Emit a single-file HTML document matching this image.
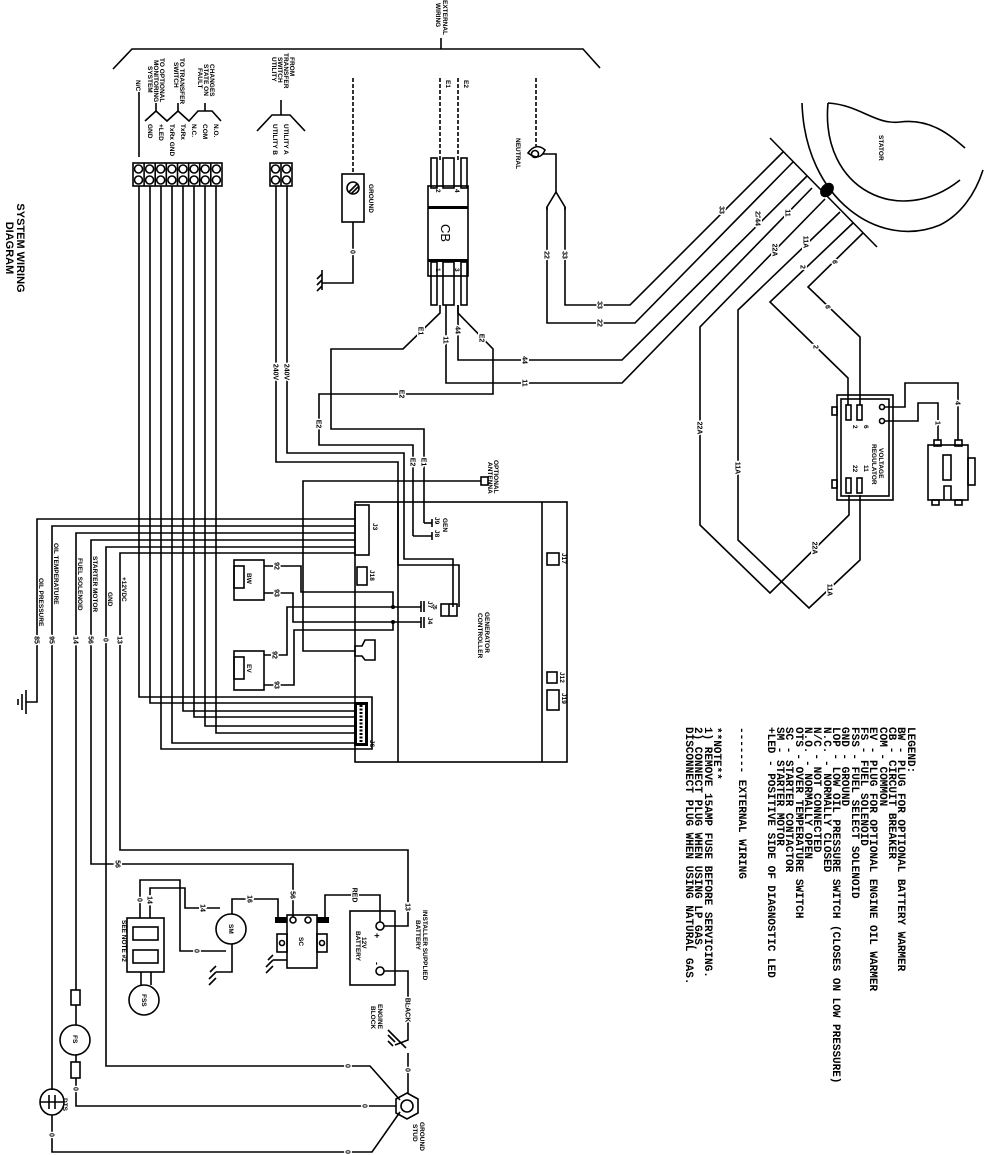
<!DOCTYPE html>
<html><head><meta charset="utf-8"><style>
html,body{margin:0;padding:0;background:#fff;}
svg{display:block}
.w{fill:none;stroke:#000;stroke-width:1.6}
.d{fill:none;stroke:#000;stroke-width:1.6;stroke-dasharray:4 2}
.l{font-family:"Liberation Sans",sans-serif;font-weight:bold;font-size:7px;fill:#000;paint-order:stroke;stroke:#fff;stroke-width:3px;text-anchor:middle}
.t{font-family:"Liberation Sans",sans-serif;font-weight:900;font-size:6.5px;fill:#000}
.g{font-family:"Liberation Mono",monospace;font-size:11px;font-weight:bold;fill:#000}
</style></head><body>
<svg width="984" height="1155" viewBox="0 0 984 1155" xmlns="http://www.w3.org/2000/svg">
<text transform="translate(17,248) rotate(90)" text-anchor="middle" style="font-family:'Liberation Sans',sans-serif;font-weight:900;font-size:11px">SYSTEM WIRING</text>
<text transform="translate(6,248) rotate(90)" text-anchor="middle" style="font-family:'Liberation Sans',sans-serif;font-weight:900;font-size:11px">DIAGRAM</text>

<polyline class="w" points="113,69 132,49 583,49 600,68"/>
<line class="w" x1="441" y1="49" x2="441" y2="38"/>
<text class="t" transform="translate(443,0) rotate(90)">EXTERNAL</text>
<text class="t" transform="translate(436,3) rotate(90)">WIRING</text>

<text class="t" transform="translate(210,64) rotate(90)">CHANGES</text>
<text class="t" transform="translate(204,64) rotate(90)">STATE ON</text>
<text class="t" transform="translate(198,68) rotate(90)">FAULT</text>
<text class="t" transform="translate(180,58) rotate(90)">TO TRANSFER</text>
<text class="t" transform="translate(174,62) rotate(90)">SWITCH</text>
<text class="t" transform="translate(160,58) rotate(90)">TO OPTIONAL</text>
<text class="t" transform="translate(154,60) rotate(90)">MONITORING</text>
<text class="t" transform="translate(148,66) rotate(90)">SYSTEM</text>
<text class="t" transform="translate(136,80) rotate(90)">N/C</text>
<line class="w" x1="139" y1="92" x2="139" y2="157"/>
<polyline class="w" points="145,121 156,111 167,121 178,111 189,121 198,111 212,111 221,121"/>
<line class="w" x1="156" y1="111" x2="156" y2="103"/>
<line class="w" x1="178" y1="111" x2="178" y2="103"/>
<line class="w" x1="205" y1="111" x2="205" y2="103"/>
<text class="t" transform="translate(214,124) rotate(90)">N.O.</text>
<text class="t" transform="translate(203,124) rotate(90)">COM</text>
<text class="t" transform="translate(192,124) rotate(90)">N.C.</text>
<text class="t" transform="translate(181,124) rotate(90)">TxRx</text>
<text class="t" transform="translate(170,124) rotate(90)">TxRx GND</text>
<text class="t" transform="translate(159,124) rotate(90)">+LED</text>
<text class="t" transform="translate(148,124) rotate(90)">GND</text>

<rect class="w" x="133" y="163" width="89" height="23"/>
<g class="w">
<line x1="144.1" y1="163" x2="144.1" y2="186"/><line x1="155.2" y1="163" x2="155.2" y2="186"/><line x1="166.3" y1="163" x2="166.3" y2="186"/><line x1="177.5" y1="163" x2="177.5" y2="186"/><line x1="188.6" y1="163" x2="188.6" y2="186"/><line x1="199.7" y1="163" x2="199.7" y2="186"/><line x1="210.8" y1="163" x2="210.8" y2="186"/>
<circle cx="138.5" cy="169" r="4"/><circle cx="149.6" cy="169" r="4"/><circle cx="160.7" cy="169" r="4"/><circle cx="171.9" cy="169" r="4"/><circle cx="183" cy="169" r="4"/><circle cx="194.1" cy="169" r="4"/><circle cx="205.2" cy="169" r="4"/><circle cx="216.4" cy="169" r="4"/>
<circle cx="138.5" cy="180" r="4"/><circle cx="149.6" cy="180" r="4"/><circle cx="160.7" cy="180" r="4"/><circle cx="171.9" cy="180" r="4"/><circle cx="183" cy="180" r="4"/><circle cx="194.1" cy="180" r="4"/><circle cx="205.2" cy="180" r="4"/><circle cx="216.4" cy="180" r="4"/>
</g>
<polyline class="w" points="139,186 139,697 372,697 372,749 161,749 161,186"/>
<polyline class="w" points="150,186 150,703 356,703"/>
<polyline class="w" points="172,186 172,743 356,743"/>
<polyline class="w" points="183,186 183,711 356,711"/>
<polyline class="w" points="194,186 194,717 356,717"/>
<polyline class="w" points="205,186 205,726 356,726"/>
<polyline class="w" points="216,186 216,733 356,733"/>
<rect x="354" y="702" width="14" height="44" fill="#000"/>
<rect x="357" y="705" width="8" height="38" fill="#fff"/>
<line x1="361" y1="705" x2="361" y2="743" stroke="#000" stroke-width="3" stroke-dasharray="2 1.5"/>
<text class="t" transform="translate(370,740) rotate(90)">J6</text>

<text class="t" transform="translate(290,57) rotate(90)">FROM</text>
<text class="t" transform="translate(284,53) rotate(90)">TRANSFER</text>
<text class="t" transform="translate(278,57) rotate(90)">SWITCH</text>
<text class="t" transform="translate(272,57) rotate(90)">UTILITY</text>
<line class="w" x1="281" y1="100" x2="281" y2="115"/>
<polyline class="w" points="257,131 272,115 290,115 305,131"/>
<text class="t" transform="translate(284,124) rotate(90)">UTILITY A</text>
<text class="t" transform="translate(273,124) rotate(90)">UTILITY B</text>
<rect class="w" x="270" y="163" width="22" height="23"/>
<line class="w" x1="281" y1="163" x2="281" y2="186"/>
<g class="w"><circle cx="275.5" cy="169" r="4"/><circle cx="286.5" cy="169" r="4"/><circle cx="275.5" cy="180" r="4"/><circle cx="286.5" cy="180" r="4"/></g>
<polyline class="w" points="276,186 276,462 398,462 398,565 459,565 459,607"/>
<polyline class="w" points="287,186 287,453 404,453 404,559 453,559 453,607"/>
<text class="l" transform="translate(276,372) rotate(90)" dy="2.5">240V</text>
<text class="l" transform="translate(287,372) rotate(90)" dy="2.5">240V</text>

<line class="d" x1="353" y1="78" x2="353" y2="174"/>
<rect class="w" x="342" y="174" width="22" height="48"/>
<circle class="w" cx="353" cy="188" r="6"/>
<line class="w" x1="349" y1="192" x2="357" y2="184"/><line class="w" x1="351" y1="194" x2="359" y2="186"/>
<text class="t" transform="translate(369,184) rotate(90)">GROUND</text>
<polyline class="w" points="353,222 353,283 322,283"/>
<text class="l" transform="translate(353,252) rotate(90)" dy="2.5">0</text>
<line class="w" x1="322" y1="270" x2="322" y2="290"/>
<line class="w" x1="322" y1="274" x2="317" y2="279"/><line class="w" x1="322" y1="280" x2="317" y2="285"/><line class="w" x1="322" y1="286" x2="317" y2="291"/>

<line class="d" x1="440" y1="78" x2="440" y2="160"/>
<line class="d" x1="458" y1="78" x2="458" y2="160"/>
<text class="t" transform="translate(446,80) rotate(90)">E1</text>
<text class="t" transform="translate(464,80) rotate(90)">E2</text>
<rect class="w" x="431" y="158" width="6" height="30"/><rect class="w" x="443" y="158" width="11" height="30"/><rect class="w" x="461" y="158" width="6" height="30"/>
<rect class="w" x="431" y="262" width="6" height="43"/><rect class="w" x="443" y="262" width="11" height="43"/><rect class="w" x="461" y="262" width="6" height="43"/>
<rect class="w" x="428" y="186" width="40" height="90" fill="#fff"/>
<rect x="428" y="206" width="40" height="3" fill="#000"/>
<rect x="428" y="259" width="40" height="3" fill="#000"/>
<text transform="translate(441,233) rotate(90)" text-anchor="middle" style="font-family:'Liberation Sans',sans-serif;font-size:13px">CB</text>
<text class="t" transform="translate(436,189) rotate(90)">2</text>
<text class="t" transform="translate(455,189) rotate(90)">4</text>
<text class="t" transform="translate(436,268) rotate(90)">1</text>
<text class="t" transform="translate(455,268) rotate(90)">3</text>
<polyline class="w" points="440,305 440,313 403,349 331,349 331,429 424,429 424,523"/>
<polyline class="w" points="458,305 458,313 493,349 493,394 319,394 319,445 413,445 413,536"/>
<polyline class="w" points="446,305 446,383 622,383 812,188"/>
<polyline class="w" points="458,305 458,360 622,360 807,176"/>
<text class="l" transform="translate(421,331) rotate(90)" dy="2.5">E1</text>
<text class="l" transform="translate(446,340) rotate(90)" dy="2.5">11</text>
<text class="l" transform="translate(458,330) rotate(90)" dy="2.5">44</text>
<text class="l" transform="translate(482,338) rotate(90)" dy="2.5">E2</text>
<text class="l" transform="translate(525,360) rotate(90)" dy="2.5">44</text>
<text class="l" transform="translate(525,383) rotate(90)" dy="2.5">11</text>
<text class="l" transform="translate(402,394) rotate(90)" dy="2.5">E2</text>
<text class="l" transform="translate(319,424) rotate(90)" dy="2.5">E2</text>
<text class="l" transform="translate(413,462) rotate(90)" dy="2.5">E2</text>
<text class="l" transform="translate(424,462) rotate(90)" dy="2.5">E1</text>
<line class="w" x1="424" y1="523" x2="432" y2="523"/><line class="w" x1="432" y1="519" x2="432" y2="527"/>
<line class="w" x1="413" y1="536" x2="432" y2="536"/><line class="w" x1="432" y1="532" x2="432" y2="540"/>
<text class="t" transform="translate(435,517) rotate(90)">J9</text>
<text class="t" transform="translate(435,530) rotate(90)">J8</text>
<text class="t" transform="translate(443,518) rotate(90)">GEN</text>

<line class="d" x1="536" y1="78" x2="536" y2="146"/>
<path class="w" d="M528,153 Q536,142 545,150 Q540,162 528,153 Z"/>
<circle class="w" cx="535" cy="154" r="3.5"/>
<text class="t" transform="translate(516,138) rotate(90)">NEUTRAL</text>
<polyline class="w" points="543,154 556,154 556,192"/>
<polyline class="w" points="547,210 547,207 556,192 565,207 565,210"/>
<polyline class="w" points="547,207 547,323 635,323 793,162"/>
<polyline class="w" points="565,207 565,305 630,305 783,152"/>
<text class="l" transform="translate(547,255) rotate(90)" dy="2.5">22</text>
<text class="l" transform="translate(565,255) rotate(90)" dy="2.5">33</text>
<text class="l" transform="translate(600,305) rotate(90)" dy="2.5">33</text>
<text class="l" transform="translate(600,323) rotate(90)" dy="2.5">22</text>

<path class="w" d="M802,103 C805,200 880,250 940,225 C960,215 975,195 983,170"/>
<path class="w" d="M828,103 C820,190 900,228 960,180"/>
<path class="w" d="M828,103 C860,105 875,125 900,122 C930,118 950,135 965,148"/>
<text class="t" transform="translate(879,135) rotate(90)">STATOR</text>
<line class="w" x1="770" y1="138" x2="877" y2="247"/>
<ellipse cx="827" cy="190" rx="6" ry="8" transform="rotate(40 827 190)" fill="#000"/>
<polyline class="w" points="825,199 700,327 700,525 770,593 849,515 849,495"/>
<polyline class="w" points="840,212 738,310 738,540 809,608 860,560 860,495"/>
<polyline class="w" points="853,223 770,302 848,378 848,405"/>
<polyline class="w" points="863,233 808,287 860,337 860,405"/>
<text class="l" transform="translate(722,210) rotate(90)" dy="2.5">33</text>
<text class="l" transform="translate(758,215) rotate(90)" dy="2.5">22</text>
<text class="l" transform="translate(758,222) rotate(90)" dy="2.5">44</text>
<text class="l" transform="translate(788,213) rotate(90)" dy="2.5">11</text>
<text class="l" transform="translate(775,250) rotate(90)" dy="2.5">22A</text>
<text class="l" transform="translate(806,242) rotate(90)" dy="2.5">11A</text>
<text class="l" transform="translate(803,267) rotate(90)" dy="2.5">2</text>
<text class="l" transform="translate(835,262) rotate(90)" dy="2.5">6</text>
<text class="l" transform="translate(828,307) rotate(90)" dy="2.5">6</text>
<text class="l" transform="translate(816,347) rotate(90)" dy="2.5">2</text>
<text class="l" transform="translate(700,428) rotate(90)" dy="2.5">22A</text>
<text class="l" transform="translate(738,468) rotate(90)" dy="2.5">11A</text>
<text class="l" transform="translate(815,548) rotate(90)" dy="2.5">22A</text>
<text class="l" transform="translate(830,590) rotate(90)" dy="2.5">11A</text>

<rect class="w" x="837" y="395" width="56" height="105"/>
<rect class="w" x="841" y="399" width="48" height="97"/>
<rect class="w" x="832" y="407" width="5" height="8"/><rect class="w" x="832" y="480" width="5" height="8"/>
<rect class="w" x="846" y="405" width="5" height="15"/><rect class="w" x="857" y="405" width="5" height="15"/>
<rect class="w" x="846" y="478" width="5" height="15"/><rect class="w" x="857" y="478" width="5" height="15"/>
<text class="t" transform="translate(853,425) rotate(90)">2</text>
<text class="t" transform="translate(864,425) rotate(90)">6</text>
<text class="t" transform="translate(853,465) rotate(90)">22</text>
<text class="t" transform="translate(864,465) rotate(90)">11</text>
<text class="t" transform="translate(879,448) rotate(90)">VOLTAGE</text>
<text class="t" transform="translate(872,444) rotate(90)">REGULATOR</text>
<circle class="w" cx="882" cy="407" r="2.5"/><circle class="w" cx="882" cy="421" r="2.5"/>
<polyline class="w" points="885,407 905,407 905,383 958,383 958,440"/>
<polyline class="w" points="885,421 918,421 918,403 938,403 938,440"/>
<text class="l" transform="translate(958,403) rotate(90)" dy="2.5">4</text>
<text class="l" transform="translate(938,423) rotate(90)" dy="2.5">1</text>
<rect class="w" x="928" y="445" width="40" height="55"/>
<rect class="w" x="934" y="440" width="7" height="6"/><rect class="w" x="955" y="440" width="7" height="6"/>
<rect class="w" x="943" y="455" width="8" height="25"/>
<rect class="w" x="968" y="458" width="7" height="27"/>
<rect class="w" x="932" y="500" width="7" height="5"/><rect class="w" x="955" y="500" width="7" height="5"/>
<polyline class="w" points="944,500 944,486 951,486 951,500"/>

<rect class="w" x="355" y="502" width="212" height="260"/>
<line class="w" x1="398" y1="502" x2="398" y2="762"/>
<line class="w" x1="542" y1="502" x2="542" y2="762"/>
<text class="t" transform="translate(485,612) rotate(90)">GENERATOR</text>
<text class="t" transform="translate(478,613) rotate(90)">CONTROLLER</text>
<rect class="w" x="355" y="505" width="14" height="50"/>
<text class="t" transform="translate(373,523) rotate(90)">J3</text>
<rect class="w" x="357" y="567" width="10" height="18"/>
<text class="t" transform="translate(370,570) rotate(90)">J18</text>
<rect class="w" x="547" y="553" width="12" height="12"/><text class="t" transform="translate(562,553) rotate(90)">J17</text>
<rect class="w" x="547" y="672" width="10" height="11"/><text class="t" transform="translate(560,672) rotate(90)">J12</text>
<rect class="w" x="547" y="690" width="12" height="20"/><text class="t" transform="translate(562,693) rotate(90)">J19</text>
<rect class="w" x="441" y="604" width="16" height="12"/>
<line class="w" x1="449" y1="604" x2="449" y2="616"/>
<text class="t" transform="translate(433,604) rotate(90)" style="font-size:5px">J5</text>
<polyline class="w" points="355,519 37,519 37,702 26,702"/>
<polyline class="w" points="355,526 52,526 52,1090"/>
<polyline class="w" points="355,533 76,533 76,990"/>
<polyline class="w" points="355,540 91,540 91,864 293,864 293,917"/>
<polyline class="w" points="355,547 106,547 106,1066 370,1066 400,1100"/>
<polyline class="w" points="355,553 120,553 120,850 408,850 408,926 384,926"/>
<line class="w" x1="26" y1="690" x2="26" y2="714"/><line class="w" x1="22" y1="694" x2="22" y2="710"/><line class="w" x1="18" y1="699" x2="18" y2="705"/>
<text class="t" transform="translate(39,578) rotate(90)">OIL PRESSURE</text>
<text class="t" transform="translate(54,543) rotate(90)">OIL TEMPERATURE</text>
<text class="t" transform="translate(78,558) rotate(90)">FUEL SOLENOID</text>
<text class="t" transform="translate(93,556) rotate(90)">STARTER MOTOR</text>
<text class="t" transform="translate(108,592) rotate(90)">GND</text>
<text class="t" transform="translate(122,577) rotate(90)">+12VDC</text>
<text class="l" transform="translate(37,640) rotate(90)" dy="2.5">85</text>
<text class="l" transform="translate(52,640) rotate(90)" dy="2.5">95</text>
<text class="l" transform="translate(76,640) rotate(90)" dy="2.5">14</text>
<text class="l" transform="translate(91,640) rotate(90)" dy="2.5">56</text>
<text class="l" transform="translate(106,640) rotate(90)" dy="2.5">0</text>
<text class="l" transform="translate(120,640) rotate(90)" dy="2.5">13</text>

<polyline class="w" points="481,481 303,481 303,651 355,651"/>
<rect class="w" x="481" y="477" width="7" height="8"/>
<text class="t" transform="translate(494,460) rotate(90)">OPTIONAL</text>
<text class="t" transform="translate(488,462) rotate(90)">ANTENNA</text>
<path class="w" d="M355,646 L362,646 L365,640 L375,640 L375,660 L365,660 L362,656 L355,656 Z"/>

<rect class="w" x="234" y="560" width="30" height="40"/>
<rect class="w" x="234" y="566" width="10" height="22"/>
<text class="t" transform="translate(247,573) rotate(90)">BW</text>
<rect class="w" x="234" y="651" width="30" height="39"/>
<rect class="w" x="234" y="657" width="10" height="22"/>
<text class="t" transform="translate(247,664) rotate(90)">EV</text>
<polyline class="w" points="264,566 301,566 301,592 393,592 393,607"/>
<polyline class="w" points="264,593 293,593 293,622 421,622"/>
<polyline class="w" points="264,655 287,655 287,607 421,607"/>
<polyline class="w" points="264,685 294,685 294,630 393,630 393,622"/>
<circle cx="393" cy="607" r="2" fill="#000"/><circle cx="393" cy="622" r="2" fill="#000"/>
<line class="w" x1="421" y1="601" x2="421" y2="612"/><line class="w" x1="421" y1="617" x2="421" y2="628"/>
<line class="w" x1="424" y1="601" x2="424" y2="612"/><line class="w" x1="424" y1="617" x2="424" y2="628"/>
<text class="t" transform="translate(428,601) rotate(90)">J7</text>
<text class="t" transform="translate(428,617) rotate(90)">J4</text>
<text class="l" transform="translate(277,566) rotate(90)" dy="2.5">92</text>
<text class="l" transform="translate(277,593) rotate(90)" dy="2.5">93</text>
<text class="l" transform="translate(275,655) rotate(90)" dy="2.5">92</text>
<text class="l" transform="translate(277,685) rotate(90)" dy="2.5">93</text>

<text class="l" transform="translate(118,864) rotate(90)" dy="2.5">56</text>
<text class="l" transform="translate(293,895) rotate(90)" dy="2.5">56</text>
<text class="l" transform="translate(408,907) rotate(90)" dy="2.5">13</text>
<text class="t" transform="translate(423,910) rotate(90)">INSTALLER SUPPLIED</text>
<text class="t" transform="translate(416,920) rotate(90)">BATTERY</text>
<rect class="w" x="350" y="911" width="45" height="74"/>
<circle class="w" cx="380" cy="926" r="4"/><circle class="w" cx="380" cy="971" r="4"/>
<text class="t" transform="translate(374,933) rotate(90)" style="font-size:9px">+</text>
<text class="t" transform="translate(374,962) rotate(90)" style="font-size:9px">-</text>
<text class="t" transform="translate(362,937) rotate(90)">12V</text>
<text class="t" transform="translate(356,931) rotate(90)">BATTERY</text>
<polyline class="w" points="380,922 380,895 325,895 325,917"/>
<text class="l" transform="translate(355,895) rotate(90)" dy="2.5">RED</text>
<polyline class="w" points="384,971 408,971 408,1040 395,1045"/>
<line class="w" x1="408" y1="1053" x2="408" y2="1094"/>
<text class="l" transform="translate(408,1010) rotate(90)" dy="2.5">BLACK</text>
<text class="l" transform="translate(408,1070) rotate(90)" dy="2.5">0</text>
<text class="t" transform="translate(378,1004) rotate(90)">ENGINE</text>
<text class="t" transform="translate(371,1006) rotate(90)">BLOCK</text>
<line class="w" x1="388" y1="1030" x2="406" y2="1048"/>
<line class="w" x1="388" y1="1035" x2="395" y2="1042"/><line class="w" x1="388" y1="1041" x2="393" y2="1046"/>
<polygon class="w" points="407,1093 418,1099 418,1113 407,1119 396,1113 396,1099"/>
<circle class="w" cx="407" cy="1106" r="6"/>
<text class="t" transform="translate(420,1122) rotate(90)">GROUND</text>
<text class="t" transform="translate(413,1124) rotate(90)">STUD</text>
<rect class="w" x="287" y="915" width="30" height="53"/>
<rect x="275" y="917" width="12" height="6" fill="#000"/><rect x="317" y="917" width="12" height="6" fill="#000"/>
<circle class="w" cx="293" cy="920" r="3"/><circle class="w" cx="308" cy="920" r="3"/>
<rect class="w" x="277" y="934" width="10" height="18"/><rect class="w" x="317" y="934" width="10" height="18"/>
<circle class="w" cx="282" cy="943" r="2.5"/><circle class="w" cx="322" cy="943" r="2.5"/>
<text class="t" transform="translate(299,937) rotate(90)">SC</text>
<polyline class="w" points="287,960 273,960"/>
<line class="w" x1="273" y1="955" x2="268" y2="960"/><line class="w" x1="273" y1="960" x2="266" y2="967"/><line class="w" x1="273" y1="966" x2="266" y2="973"/>
<circle class="w" cx="231" cy="929" r="15"/>
<text class="t" transform="translate(229,924) rotate(90)">SM</text>
<polyline class="w" points="278,917 278,899 232,899 232,914"/>
<text class="l" transform="translate(250,899) rotate(90)" dy="2.5">16</text>
<polyline class="w" points="220,908 185,908 185,888 150,888 150,918"/>
<text class="l" transform="translate(203,908) rotate(90)" dy="2.5">14</text>
<text class="l" transform="translate(150,900) rotate(90)" dy="2.5">14</text>
<polyline class="w" points="226,951 180,951 180,880 140,880 140,918"/>
<text class="l" transform="translate(197,951) rotate(90)" dy="2.5">0</text>
<text class="l" transform="translate(140,900) rotate(90)" dy="2.5">0</text>
<polyline class="w" points="232,944 232,972 216,972"/>
<line class="w" x1="216" y1="966" x2="210" y2="972"/><line class="w" x1="216" y1="972" x2="209" y2="979"/><line class="w" x1="216" y1="978" x2="209" y2="985"/>
<rect class="w" x="127" y="918" width="37" height="54"/>
<rect class="w" x="133" y="927" width="25" height="13"/>
<rect class="w" x="133" y="950" width="25" height="13"/>
<text class="t" transform="translate(122,920) rotate(90)">SEE NOTE #2</text>
<line class="w" x1="141" y1="972" x2="141" y2="985"/><line class="w" x1="151" y1="972" x2="151" y2="985"/>
<circle class="w" cx="144" cy="1000" r="15"/>
<text class="t" transform="translate(142,994) rotate(90)">FSS</text>
<rect class="w" x="71" y="990" width="9" height="15"/>
<line class="w" x1="76" y1="1005" x2="76" y2="1025"/>
<circle class="w" cx="75" cy="1040" r="15"/>
<text class="t" transform="translate(73,1035) rotate(90)">FS</text>
<line class="w" x1="76" y1="1055" x2="76" y2="1062"/>
<rect class="w" x="71" y="1062" width="9" height="16"/>
<polyline class="w" points="76,1078 76,1106 396,1106"/>
<text class="l" transform="translate(76,1089) rotate(90)" dy="2.5">0</text>
<text class="l" transform="translate(365,1106) rotate(90)" dy="2.5">0</text>
<text class="l" transform="translate(348,1066) rotate(90)" dy="2.5">0</text>
<ellipse class="w" cx="52" cy="1102" rx="12" ry="13"/>
<line class="w" x1="40" y1="1102" x2="64" y2="1102"/>
<line class="w" x1="49" y1="1095" x2="49" y2="1109"/><line class="w" x1="55" y1="1095" x2="55" y2="1109"/>
<text class="t" transform="translate(63,1098) rotate(90)">DTS</text>
<polyline class="w" points="52,1115 52,1152 372,1152 400,1112"/>
<text class="l" transform="translate(52,1135) rotate(90)" dy="2.5">0</text>
<text class="l" transform="translate(348,1152) rotate(90)" dy="2.5">0</text>

<g class="g">
<text transform="translate(908,727) rotate(90)">LEGEND:</text>
<text transform="translate(898,727) rotate(90)">BW - PLUG FOR OPTIONAL BATTERY WARMER</text>
<text transform="translate(889,727) rotate(90)">CB - CIRCUIT BREAKER</text>
<text transform="translate(880,727) rotate(90)">COM - COMMON</text>
<text transform="translate(870,727) rotate(90)">EV - PLUG FOR OPTIONAL ENGINE OIL WARMER</text>
<text transform="translate(861,727) rotate(90)">FS - FUEL SOLENOID</text>
<text transform="translate(852,727) rotate(90)">FSS - FUEL SELECT SOLENOID</text>
<text transform="translate(842,727) rotate(90)">GND - GROUND</text>
<text transform="translate(833,727) rotate(90)">LOP - LOW OIL PRESSURE SWITCH (CLOSES ON LOW PRESSURE)</text>
<text transform="translate(824,727) rotate(90)">N.C. - NORMALLY CLOSED</text>
<text transform="translate(814,727) rotate(90)">N/C - NOT CONNECTED</text>
<text transform="translate(805,727) rotate(90)">N.O. - NORMALLY OPEN</text>
<text transform="translate(796,727) rotate(90)">OTS - OVER TEMPERATURE SWITCH</text>
<text transform="translate(786,727) rotate(90)">SC - STARTER CONTACTOR</text>
<text transform="translate(777,727) rotate(90)">SM - STARTER MOTOR</text>
<text transform="translate(768,727) rotate(90)">+LED - POSITIVE SIDE OF DIAGNOSTIC LED</text>
<text transform="translate(739,727) rotate(90)">------- EXTERNAL WIRING</text>
<text transform="translate(714,727) rotate(90)">**NOTE**</text>
<text transform="translate(705,727) rotate(90)">1) REMOVE 15AMP FUSE BEFORE SERVICING.</text>
<text transform="translate(695,727) rotate(90)">2) CONNECT PLUG WHEN USING LP GAS,</text>
<text transform="translate(686,727) rotate(90)">   DISCONNECT PLUG WHEN USING NATURAL GAS.</text>
</g>
</svg>
</body></html>
